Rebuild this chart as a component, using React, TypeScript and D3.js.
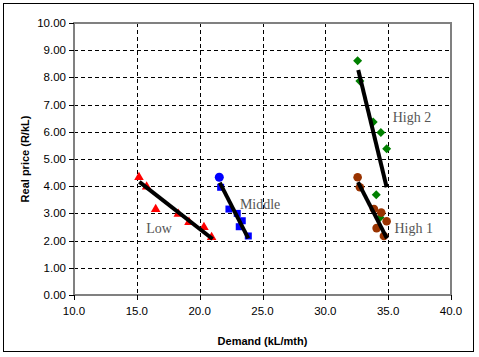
import React, { useEffect, useRef } from "react";
import * as d3 from "d3";

const lowX = [15.17, 15.78, 16.5, 18.3, 19.15, 20.34, 20.95];
const lowY = [4.33, 3.98, 3.15, 2.98, 2.68, 2.49, 2.12];
const midX = [21.56, 21.67, 22.33, 22.99, 23.39, 23.15, 23.87];
const midY = [4.33, 3.96, 3.16, 3.0, 2.73, 2.51, 2.17];
const high1X = [32.57, 32.75, 33.87, 34.45, 34.88, 34.08, 34.66];
const high1Y = [4.33, 3.96, 3.16, 3.03, 2.71, 2.46, 2.17];
const high2X = [32.57, 32.75, 33.81, 34.42, 34.88, 34.05, 34.35];
const high2Y = [8.61, 7.87, 6.36, 5.97, 5.38, 3.69, 2.85];

// trend line endpoints [x0, y0, x1, y1]
const lowTrend = [15.2, 4.16, 21.03, 2.06];
const midTrend = [21.6, 4.13, 23.87, 2.08];
const high2Trend = [32.62, 8.27, 34.88, 3.96];
const high1Trend = [32.6, 4.15, 34.9, 2.08];

const xTicks = [10, 15, 20, 25, 30, 35, 40];
const yTicks = [0, 1, 2, 3, 4, 5, 6, 7, 8, 9, 10];

const labels = [
  { text: "Low", x: 15.75, y: 2.29 },
  { text: "Middle", x: 23.2, y: 3.17 },
  { text: "High 2", x: 35.36, y: 6.36 },
  { text: "High 1", x: 35.5, y: 2.27 },
];

export default function App() {
  const ref = useRef<SVGSVGElement>(null);
  useEffect(() => {
    document.body.style.margin = "0";
    const svg = d3.select(ref.current);
    svg.selectAll("*").remove();
    const W = 479, H = 357;
    const L = 74, R = 451, T = 23, B = 295;
    const x = d3.scaleLinear().domain([10, 40]).range([L, R]);
    const y = d3.scaleLinear().domain([0, 10]).range([B, T]);

    svg.append("rect").attr("width", W).attr("height", H).attr("fill", "#fff");
    svg.append("rect").attr("x", 3.5).attr("y", 3.5).attr("width", 470).attr("height", 348)
      .attr("fill", "none").attr("stroke", "#000").attr("stroke-width", 1);

    // gridlines
    const g = svg.append("g");
    yTicks.slice(1, -1).forEach((t) => {
      g.append("line").attr("x1", L).attr("x2", R).attr("y1", Math.round(y(t)) + 0.5).attr("y2", Math.round(y(t)) + 0.5)
        .attr("stroke", "#000").attr("stroke-dasharray", "4,3");
    });
    xTicks.slice(1, -1).forEach((t) => {
      g.append("line").attr("y1", T).attr("y2", B).attr("x1", Math.round(x(t)) + 0.5).attr("x2", Math.round(x(t)) + 0.5)
        .attr("stroke", "#000").attr("stroke-dasharray", "4,3");
    });

    // plot border
    svg.append("rect").attr("x", L).attr("y", T).attr("width", R - L).attr("height", B - T)
      .attr("fill", "none").attr("stroke", "#808080").attr("stroke-width", 2);

    // ticks
    yTicks.forEach((t) => {
      svg.append("line").attr("x1", L - 5).attr("x2", L).attr("y1", Math.round(y(t)) + 0.5).attr("y2", Math.round(y(t)) + 0.5)
        .attr("stroke", "#000");
      svg.append("text").attr("x", L - 8).attr("y", y(t) + 4).attr("text-anchor", "end")
        .attr("font-family", "Liberation Sans, Arial, sans-serif").attr("font-size", 11.5).text(t.toFixed(2));
    });
    xTicks.forEach((t) => {
      svg.append("line").attr("y1", B).attr("y2", B + 5).attr("x1", Math.round(x(t)) + 0.5).attr("x2", Math.round(x(t)) + 0.5)
        .attr("stroke", "#000");
      svg.append("text").attr("x", x(t)).attr("y", B + 20).attr("text-anchor", "middle")
        .attr("font-family", "Liberation Sans, Arial, sans-serif").attr("font-size", 11.5).text(t.toFixed(1));
    });

    svg.append("text").attr("x", (L + R) / 2).attr("y", 345).attr("text-anchor", "middle")
      .attr("font-family", "Liberation Sans, Arial, sans-serif").attr("font-size", 11).attr("font-weight", "bold")
      .text("Demand (kL/mth)");
    svg.append("text").attr("transform", `translate(29,${(T + B) / 2}) rotate(-90)`).attr("text-anchor", "middle")
      .attr("font-family", "Liberation Sans, Arial, sans-serif").attr("font-size", 11).attr("font-weight", "bold")
      .text("Real price (R/kL)");

    const pts = (xs: number[], ys: number[]) => xs.map((v, i) => [x(v), y(ys[i])] as [number, number]);

    // Low: red triangles
    const tri = d3.symbol().type(d3.symbolTriangle).size(40);
    pts(lowX, lowY).forEach(([px, py]) => {
      svg.append("path").attr("d", tri()!).attr("transform", `translate(${px},${py})`).attr("fill", "#ff0000");
    });
    // Middle: blue squares, first circle
    pts(midX, midY).forEach(([px, py], i) => {
      if (i === 0) svg.append("circle").attr("cx", px).attr("cy", py).attr("r", 4.5).attr("fill", "#0000ff");
      else svg.append("rect").attr("x", px - 3.5).attr("y", py - 3.5).attr("width", 7).attr("height", 7).attr("fill", "#0000ff");
    });
    // High 2: green diamonds
    pts(high2X, high2Y).forEach(([px, py]) => {
      svg.append("path").attr("d", "M0,-4.5L4.5,0L0,4.5L-4.5,0Z").attr("transform", `translate(${px},${py})`).attr("fill", "#008000");
    });
    // High 1: brown circles
    pts(high1X, high1Y).forEach(([px, py]) => {
      svg.append("circle").attr("cx", px).attr("cy", py).attr("r", 4.3).attr("fill", "#993300");
    });

    // trend lines
    [lowTrend, midTrend, high2Trend, high1Trend].forEach((t) => {
      svg.append("line").attr("x1", x(t[0])).attr("y1", y(t[1])).attr("x2", x(t[2])).attr("y2", y(t[3]))
        .attr("stroke", "#000").attr("stroke-width", 4);
    });

    labels.forEach((l) => {
      svg.append("text").attr("x", x(l.x)).attr("y", y(l.y)).attr("font-family", "Liberation Serif, Times New Roman, serif")
        .attr("font-size", 14).attr("fill", "#555").text(l.text);
    });
  }, []);
  return <svg ref={ref} width={479} height={357} style={{ display: "block" }} />;
}
